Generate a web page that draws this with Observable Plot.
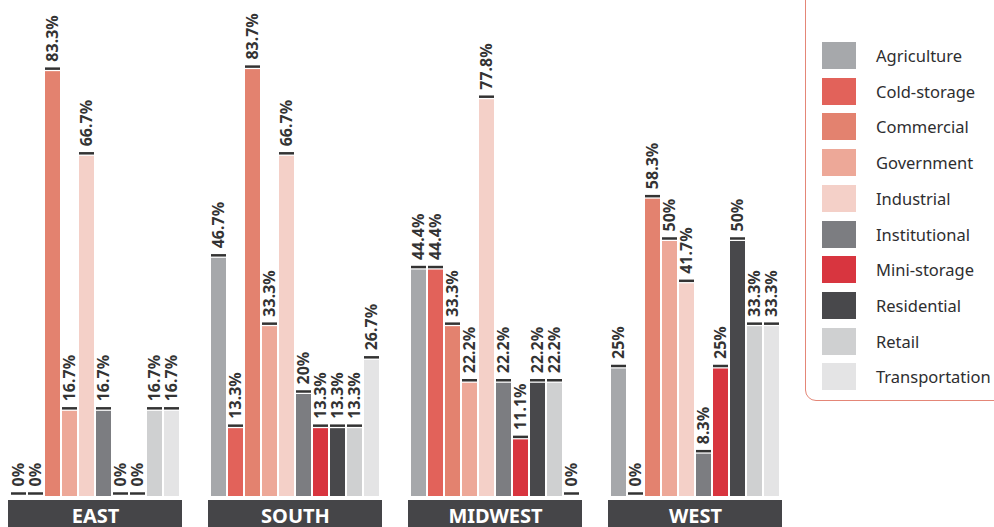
<!DOCTYPE html>
<html>
<head>
<meta charset="utf-8">
<script src="https://cdn.jsdelivr.net/npm/d3@7"></script>
<script src="https://cdn.jsdelivr.net/npm/@observablehq/plot@0.6"></script>
<style>
  html, body { margin: 0; padding: 0; background: #fff; overflow: hidden; }
  #wrap { position: relative; width: 994px; height: 527px; overflow: hidden; font-family: "Noto Sans", sans-serif; }
  #chart { position: absolute; left: 0; top: 0; }
  #legend { position: absolute; left: 805px; top: -20px; width: 220px; height: 421px;
            border: 1.5px solid #e48677; border-radius: 11px; box-sizing: border-box; }
  .row { position: absolute; left: 16px; height: 27px; display: flex; align-items: center; }
  .sw { width: 34px; height: 27px; margin-right: 20px; flex: none; }
  .lab { font-size: 16.5px; color: #2e2e30; white-space: nowrap; }
</style>
</head>
<body>
<div id="wrap">
  <div id="chart"></div>
  <div id="legend"></div>
</div>
<script>
const regions = ["EAST", "SOUTH", "MIDWEST", "WEST"];
const categories = ["Agriculture", "Cold-storage", "Commercial", "Government", "Industrial",
                    "Institutional", "Mini-storage", "Residential", "Retail", "Transportation"];
const colors = ["#a6a8ab", "#e2625a", "#e3826f", "#eda898", "#f4d0c8",
                "#7c7d81", "#d8353f", "#48484b", "#cfd0d1", "#e4e4e5"];
const east    = [0, 0, 83.3, 16.7, 66.7, 16.7, 0, 0, 16.7, 16.7];
const south   = [46.7, 13.3, 83.7, 33.3, 66.7, 20, 13.3, 13.3, 13.3, 26.7];
const midwest = [44.4, 44.4, 33.3, 22.2, 77.8, 22.2, 11.1, 22.2, 22.2, 0];
const west    = [25, 0, 58.3, 50, 41.7, 8.3, 25, 50, 33.3, 33.3];

const series = [east, south, midwest, west];
const data = regions.flatMap((r, i) =>
  categories.map((c, j) => ({region: r, category: c, value: series[i][j]})));

const fmt = v => `${v}%`;

const chart = Plot.plot({
  width: 994,
  height: 527,
  marginLeft: 7,
  marginRight: 212,
  marginTop: 0,
  marginBottom: 0,
  style: {fontFamily: "'Noto Sans', sans-serif", background: "transparent"},
  fx: {domain: regions, paddingInner: 0.13, paddingOuter: 0, axis: null, label: null},
  x: {domain: categories, paddingInner: 0.13, paddingOuter: 0, axis: null, label: null},
  y: {domain: [0, 97.25], range: [496, 0], axis: null},
  color: {domain: categories, range: colors},
  marks: [
    Plot.rect(regions, {fx: d => d, fill: "#454548", insetTop: 500}),
    Plot.text(regions, {fx: d => d, text: d => d, frameAnchor: "bottom", lineAnchor: "bottom",
                        dy: -5, fill: "white", fontWeight: "bold", fontSize: 20}),
    Plot.barY(data, {fx: "region", x: "category", y: "value", fill: "category"}),
    Plot.tickY(data, {fx: "region", x: "category", y: "value", stroke: "#333", strokeWidth: 2.5, dy: -3}),
    Plot.text(data, {fx: "region", x: "category", y: "value", text: d => fmt(d.value),
                     rotate: -90, textAnchor: "start", dy: -10, fill: "#333",
                     fontWeight: "bold", fontSize: 16})
  ]
});
document.getElementById("chart").appendChild(chart);

const legend = document.getElementById("legend");
categories.forEach((c, i) => {
  const row = document.createElement("div");
  row.className = "row";
  row.style.top = (61 + i * 35.7) + "px";
  const sw = document.createElement("div");
  sw.className = "sw";
  sw.style.background = colors[i];
  const lab = document.createElement("span");
  lab.className = "lab";
  lab.textContent = c;
  row.appendChild(sw);
  row.appendChild(lab);
  legend.appendChild(row);
});
</script>
</body>
</html>
